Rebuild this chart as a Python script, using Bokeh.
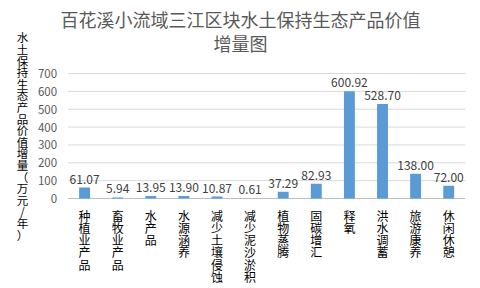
from bokeh.plotting import figure
from bokeh.models import ColumnDataSource, Range1d, FixedTicker
from bokeh.core.properties import value
from bokeh.embed import file_html
from bokeh.resources import INLINE

title_line1 = "百花溪小流域三江区块水土保持生态产品价值"
title_line2 = "增量图"
y_title = "水土保持生态产品价值增量（万元/年）"
categories = ["种植业产品", "畜牧业产品", "水产品", "水源涵养", "减少土壤侵蚀", "减少泥沙淤积",
              "植物蒸腾", "固碳增汇", "释氧", "洪水调蓄", "旅游康养", "休闲休憩"]
values = [61.07, 5.94, 13.95, 13.90, 10.87, 0.61, 37.29, 82.93, 600.92, 528.70, 138.00, 72.00]
y_ticks = [0, 100, 200, 300, 400, 500, 600, 700]

FONT = "Noto Sans CJK SC"
n_cat = len(categories)
idx = list(range(n_cat))

# visible window (frame covers the whole canvas; titles/labels drawn inside it)
X0, X1 = -2.54, 11.96
Y0, Y1 = -504, 1109
XL, XR = -0.5, n_cat - 0.5

p = figure(width=480, height=288, x_range=Range1d(X0, X1), y_range=Range1d(Y0, Y1),
           output_backend="svg", toolbar_location=None,
           min_border_left=0, min_border_right=0, min_border_top=0, min_border_bottom=0)
p.outline_line_color = None
p.xaxis.visible = False
p.xgrid.grid_line_color = None
p.ygrid.grid_line_color = None

# y axis placed at the left edge of the data area
p.yaxis.fixed_location = XL
p.yaxis.ticker = FixedTicker(ticks=y_ticks)
p.yaxis.axis_line_color = None
p.yaxis.major_tick_line_color = None
p.yaxis.minor_tick_line_color = None
p.yaxis.major_label_text_font = FONT
p.yaxis.major_label_text_font_size = "11.5px"
p.yaxis.major_label_text_color = "#595959"
p.yaxis.major_label_standoff = 5

# gridlines and baseline
grid_src = ColumnDataSource(dict(y=y_ticks[1:]))
p.segment(x0=XL, x1=XR, y0="y", y1="y", source=grid_src, line_color="#D9D9D9", line_width=1)
p.segment(x0=XL, x1=XR, y0=0, y1=0, line_color="#BFBFBF", line_width=1)

# bars and value labels
src = ColumnDataSource(dict(x=idx, y=values, lab=[f"{v:.2f}" for v in values]))
p.vbar(x="x", top="y", width=0.33, source=src, color="#5B9BD5", line_color=None)
p.text(x="x", y="y", text="lab", source=src, text_align="center", text_baseline="bottom",
       y_offset=-4, text_font_size="12px", text_color="#404040", text_font=value(FONT))

# upright stacked category labels
cx, cch, cdy = [], [], []
for i, c in enumerate(categories):
    for k, ch in enumerate(c):
        cx.append(i)
        cch.append(ch)
        cdy.append(8 + 12.3 * k)
csrc = ColumnDataSource(dict(x=cx, t=cch, dy=cdy, y=[0] * len(cx)))
p.text(x="x", y="y", text="t", y_offset="dy", source=csrc, text_align="center",
       text_baseline="top", text_font_size="12px", text_color="#000000", text_font=value(FONT))

# upright stacked y-axis title
n = len(y_title)
ysrc = ColumnDataSource(dict(x=[X0] * n, y=[350] * n, t=list(y_title),
                             dy=[(k - (n - 1) / 2) * 11.6 for k in range(n)]))
p.text(x="x", y="y", text="t", y_offset="dy", x_offset=22, source=ysrc, text_align="center",
       text_baseline="middle", text_font_size="11.5px", text_color="#000000",
       text_font=value(FONT))

# chart title (two centred lines)
tsrc = ColumnDataSource(dict(x=[(X0 + X1) / 2] * 2, y=[Y1] * 2, t=[title_line1, title_line2],
                             dy=[18, 42]))
p.text(x="x", y="y", text="t", y_offset="dy", source=tsrc, text_align="center",
       text_baseline="middle", text_font_size="18px", text_color="#595959",
       text_font=value(FONT))

open("out.html", "w").write(file_html(p, INLINE))
